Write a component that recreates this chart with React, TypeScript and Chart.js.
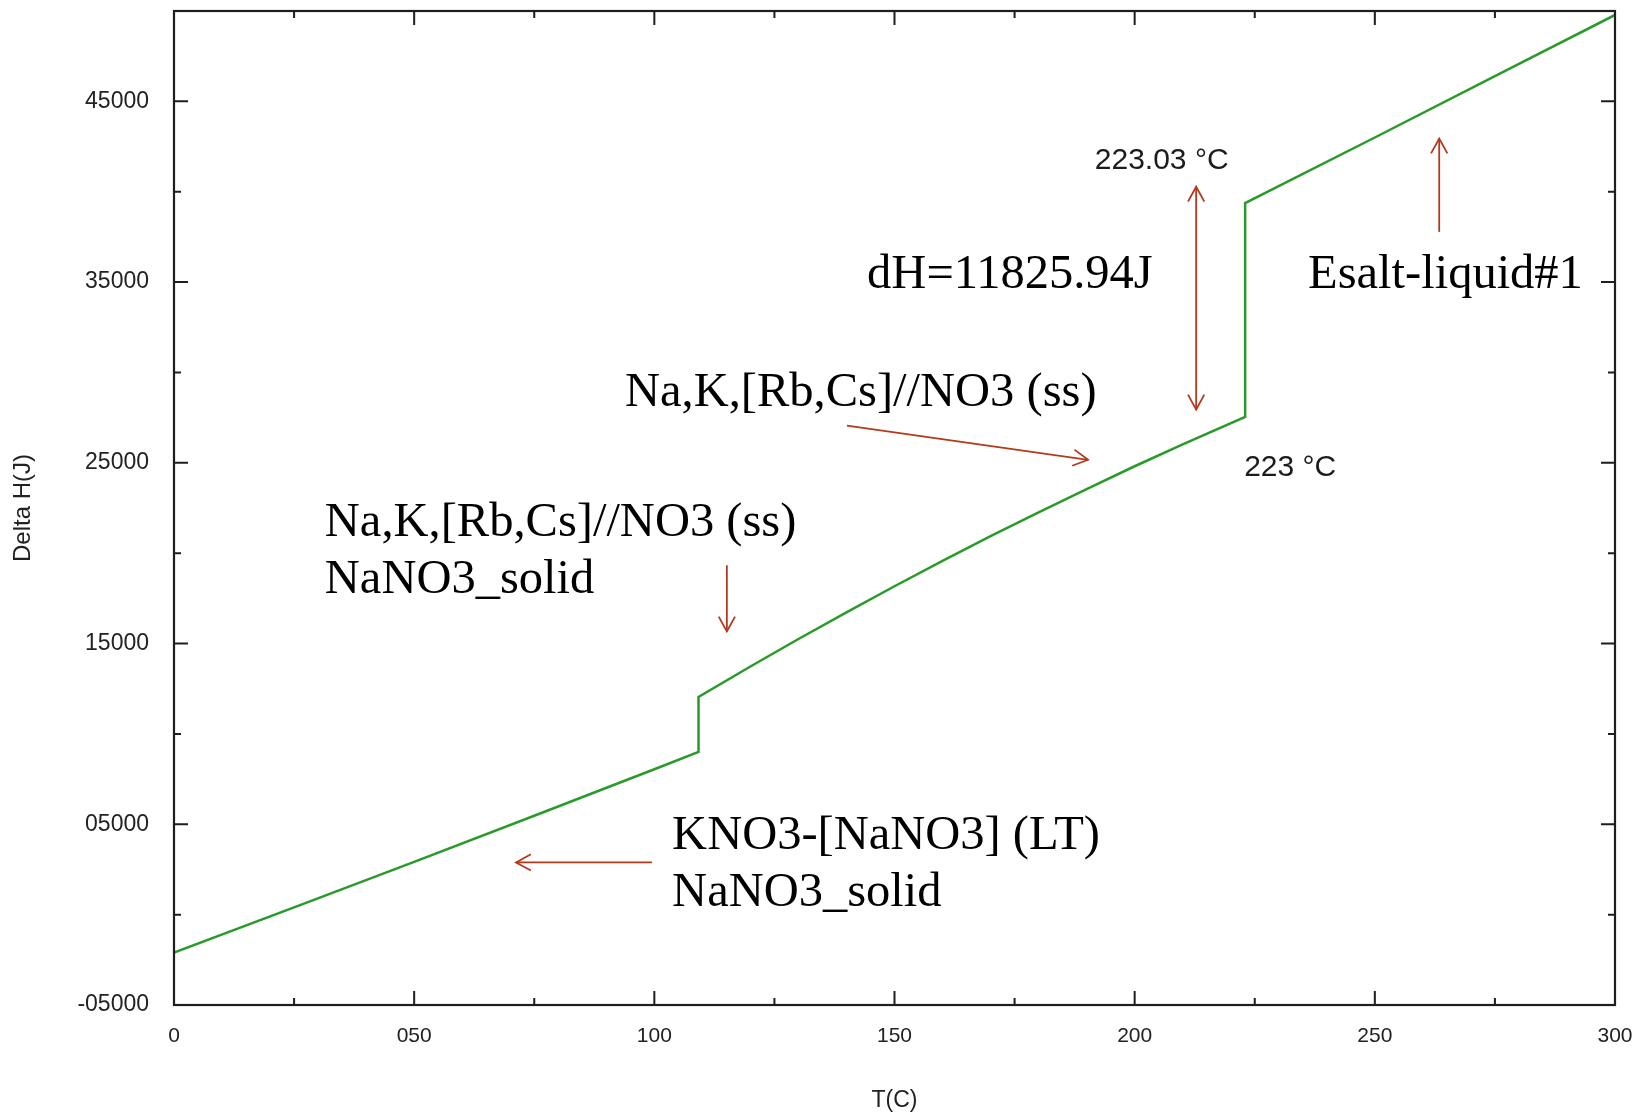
import React, { useEffect, useRef } from 'react';
import { Chart, registerables } from 'chart.js';

Chart.register(...registerables);

// ---- data ----
const temperatures = [0, 25, 50, 75, 100, 109.2, 109.2, 120, 130, 140, 150, 160, 170, 180, 190, 200, 210, 223, 223, 250, 275, 300];
const deltaH = [-2100, 400, 2920, 5470, 8046, 9000, 12050, 13730, 15250, 16720, 18170, 19570, 20940, 22260, 23550, 24810, 26020, 27545, 39371, 43000, 46400, 49780];

const xTickValues = [0, 50, 100, 150, 200, 250, 300];
const xTickLabels = ['0', '050', '100', '150', '200', '250', '300'];
const xMinorTicks = [25, 75, 125, 175, 225, 275];

const yTickValues = [-5000, 5000, 15000, 25000, 35000, 45000];
const yTickLabels = ['-05000', '05000', '15000', '25000', '35000', '45000'];
const yMinorTicks = [0, 10000, 20000, 30000, 40000];

// annotations in data coordinates (T, dH)
const noteTexts = ['223.03 °C', 'dH=11825.94J', 'Esalt-liquid#1', 'Na,K,[Rb,Cs]//NO3 (ss)', '223 °C', 'Na,K,[Rb,Cs]//NO3 (ss)', 'NaNO3_solid', 'KNO3-[NaNO3] (LT)', 'NaNO3_solid'];
const noteT = [191.7, 144.3, 236.1, 93.9, 222.8, 31.4, 31.4, 103.7, 103.7];
const noteH = [41250, 34700, 34700, 28150, 24270, 20930, 17770, 3620, 460];
const noteSerif = [false, true, true, true, false, true, true, true, true];

const arrowFromT = [212.8, 263.4, 140.1, 115.1, 99.5];
const arrowFromH = [27944, 37778, 27056, 19333, 2889];
const arrowToT = [212.8, 263.4, 190.3, 115.1, 71.2];
const arrowToH = [40278, 42944, 25167, 15667, 2889];
const arrowDouble = [true, false, false, false, false];

const SANS = "'Liberation Sans', Arial, sans-serif";
const SERIF = "'Liberation Serif', 'Times New Roman', serif";

const framePlugin = {
  id: 'frame',
  afterDraw(chart: any) {
    const { ctx, chartArea: a, scales } = chart;
    const xs = scales.x;
    const ys = scales.y;
    ctx.save();
    ctx.strokeStyle = '#1e1e1e';
    ctx.lineWidth = 2.2;
    ctx.strokeRect(a.left, a.top, a.right - a.left, a.bottom - a.top);
    ctx.lineWidth = 2;
    const vt = (v: number, len: number) => {
      const p = xs.getPixelForValue(v);
      ctx.beginPath();
      ctx.moveTo(p, a.bottom); ctx.lineTo(p, a.bottom - len);
      ctx.moveTo(p, a.top); ctx.lineTo(p, a.top + len);
      ctx.stroke();
    };
    const ht = (v: number, len: number) => {
      const p = ys.getPixelForValue(v);
      ctx.beginPath();
      ctx.moveTo(a.left, p); ctx.lineTo(a.left + len, p);
      ctx.moveTo(a.right, p); ctx.lineTo(a.right - len, p);
      ctx.stroke();
    };
    xTickValues.forEach((v) => vt(v, 14));
    xMinorTicks.forEach((v) => vt(v, 7));
    yTickValues.forEach((v) => ht(v, 14));
    yMinorTicks.forEach((v) => ht(v, 7));
    ctx.restore();
  },
};

const notesPlugin = {
  id: 'notes',
  afterDatasetsDraw(chart: any) {
    const { ctx, scales } = chart;
    const xs = scales.x;
    const ys = scales.y;
    ctx.save();
    ctx.textAlign = 'left';
    ctx.textBaseline = 'alphabetic';
    noteTexts.forEach((txt, i) => {
      ctx.font = noteSerif[i] ? `48.5px ${SERIF}` : `30px ${SANS}`;
      ctx.fillStyle = noteSerif[i] ? '#000' : '#1c1c1c';
      ctx.fillText(txt, xs.getPixelForValue(noteT[i]), ys.getPixelForValue(noteH[i]));
    });
    ctx.strokeStyle = '#b33a1c';
    ctx.lineWidth = 1.8;
    const head = (x1: number, y1: number, x2: number, y2: number) => {
      const ang = Math.atan2(y2 - y1, x2 - x1);
      const L = 17, W = 0.5;
      ctx.beginPath();
      ctx.moveTo(x2 - L * Math.cos(ang - W), y2 - L * Math.sin(ang - W));
      ctx.lineTo(x2, y2);
      ctx.lineTo(x2 - L * Math.cos(ang + W), y2 - L * Math.sin(ang + W));
      ctx.stroke();
    };
    arrowFromT.forEach((_, i) => {
      const x1 = xs.getPixelForValue(arrowFromT[i]);
      const y1 = ys.getPixelForValue(arrowFromH[i]);
      const x2 = xs.getPixelForValue(arrowToT[i]);
      const y2 = ys.getPixelForValue(arrowToH[i]);
      ctx.beginPath();
      ctx.moveTo(x1, y1);
      ctx.lineTo(x2, y2);
      ctx.stroke();
      head(x1, y1, x2, y2);
      if (arrowDouble[i]) head(x2, y2, x1, y1);
    });
    ctx.restore();
  },
};

export default function App() {
  const ref = useRef<HTMLCanvasElement | null>(null);
  useEffect(() => {
    document.body.style.margin = '0';
    const canvas = ref.current;
    if (!canvas) return;
    const chart = new Chart(canvas, {
      type: 'scatter',
      data: {
        datasets: [
          {
            data: temperatures.map((t, i) => ({ x: t, y: deltaH[i] })),
            showLine: true,
            borderColor: '#2a9a2a',
            borderWidth: 2.5,
            pointRadius: 0,
            fill: false,
            tension: 0,
          },
        ],
      },
      options: {
        animation: false,
        responsive: false,
        devicePixelRatio: 1,
        layout: { padding: { top: 11, right: 23, left: 0, bottom: 0 } },
        plugins: { legend: { display: false }, tooltip: { enabled: false } },
        scales: {
          x: {
            type: 'linear',
            min: 0,
            max: 300,
            afterBuildTicks: (s: any) => { s.ticks = xTickValues.map((v) => ({ value: v })); },
            afterFit: (s: any) => { s.height = 112; s.paddingLeft = 0; s.paddingRight = 0; },
            grid: { display: false, drawTicks: false },
            border: { display: false },
            ticks: {
              autoSkip: false,
              maxRotation: 0,
              padding: 19,
              color: '#222',
              font: { family: SANS, size: 21 },
              callback: (v: any) => xTickLabels[xTickValues.indexOf(Number(v))] ?? '',
            },
            title: { display: true, text: 'T(C)', color: '#222', font: { family: SANS, size: 23 }, padding: { top: 4, bottom: 3 } },
          },
          y: {
            type: 'linear',
            min: -5000,
            max: 50000,
            afterBuildTicks: (s: any) => { s.ticks = yTickValues.map((v) => ({ value: v })); },
            afterFit: (s: any) => { s.width = 174; s.paddingTop = 0; s.paddingBottom = 0; },
            grid: { display: false, drawTicks: false },
            border: { display: false },
            ticks: {
              autoSkip: false,
              padding: 25,
              color: '#222',
              font: { family: SANS, size: 23 },
              callback: (v: any) => yTickLabels[yTickValues.indexOf(Number(v))] ?? '',
            },
            title: { display: true, text: 'Delta H(J)', color: '#222', font: { family: SANS, size: 24 }, padding: { top: 9, bottom: 9 } },
          },
        },
      },
      plugins: [framePlugin, notesPlugin],
    } as any);
    return () => chart.destroy();
  }, []);
  return (
    <div style={{ width: 1638, height: 1117, background: '#fff' }}>
      <canvas ref={ref} width={1638} height={1117} style={{ display: 'block' }} />
    </div>
  );
}
